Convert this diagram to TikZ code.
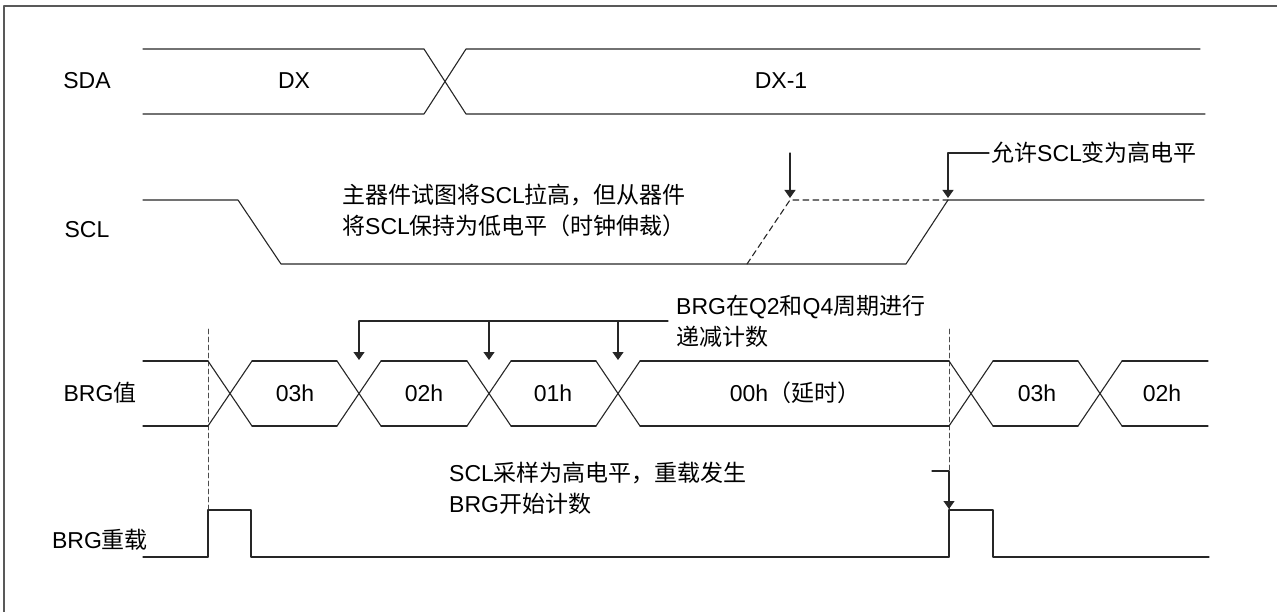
\documentclass[tikz,border=0pt]{standalone}
\usepackage{fontspec}
\setmainfont{Liberation Sans}
\newfontfamily\cjk{Noto Sans CJK SC}
\usetikzlibrary{arrows.meta}

\begin{document}
\begin{tikzpicture}[x=1pt, y=-1pt, line cap=round, line join=round,
    >={Triangle[width=11pt,length=8pt]},
    sig/.style={line width=1.1pt, black!85},
    guide/.style={line width=0.8pt, black!70, dash pattern=on 5pt off 3pt},
    every node/.style={font=\fontsize{23}{31}\selectfont, inner sep=0pt}]
    \useasboundingbox (0,0) rectangle (1277,612);

    % frame
    \draw[line width=1.2pt, black!65] (4,612) -- (4,6) -- (1277,6);

    % signal names
    \node (sda)    at (87,81)   {SDA};
    \node (scl)    at (87,230)  {SCL};
    \node (brg)    at (100,393) {BRG{\cjk 值}};
    \node (reload) at (100,540) {BRG{\cjk 重载}};

    % dashed guides at the reload instants
    \draw[guide] (208,329) -- (208,557);
    \draw[guide] (949,329) -- (949,557);

    % SDA bus
    \draw[sig] (143,49) -- (424,49) -- (466,114) -- (1205,114);
    \draw[sig] (143,114) -- (424,114) -- (466,49) -- (1200,49);
    \node (dx)    at (294,81) {DX};
    \node (dxone) at (781,81) {DX-1};

    % SCL, held low by the slave
    \draw[sig] (143,200) -- (238,200) -- (281,264) -- (906,264) -- (948,200) -- (1204,200);
    \draw[sig, dash pattern=on 6pt off 4pt] (747,264) -- (790,200) -- (948,200);
    \node[anchor=west, align=left] (stretch) at (342,210)
        {{\cjk 主器件试图将}SCL{\cjk 拉高，但从器件}\\{\cjk 将}SCL{\cjk 保持为低电平（时钟伸裁）}};
    \node[anchor=west, inner sep=2pt] (allow) at (989,153) {{\cjk 允许}SCL{\cjk 变为高电平}};
    \coordinate (try) at (790,153);
    \coordinate (tryend) at (790,198);
    \coordinate (release) at (948,198);
    \draw[sig, ->] (try) -- (tryend);
    \draw[sig, ->] (allow.west) -| (release);

    % BRG value bus: crossings, then the flat parts between them
    \foreach \c in {208,337,467,596,949,1078} {
        \draw[sig] (\c,361) -- +(44,65);
        \draw[sig] (\c,426) -- +(44,-65);
    }
    \foreach \a/\b in {143/208, 252/337, 381/467, 511/596, 640/949, 993/1078, 1122/1208} {
        \draw[sig] (\a,361) -- (\b,361);
        \draw[sig] (\a,426) -- (\b,426);
    }
    \node (v1) at (295,393)  {03h};
    \node (v2) at (424,393)  {02h};
    \node (v3) at (553,393)  {01h};
    \node (v4) at (795,393)  {00h{\cjk （延时）}};
    \node (v5) at (1037,393) {03h};
    \node (v6) at (1162,393) {02h};

    % decrement marks
    \node[anchor=west, align=left] (dec) at (676,321)
        {BRG{\cjk 在}Q2{\cjk 和}Q4{\cjk 周期进行}\\{\cjk 递减计数}};
    \coordinate (decL) at (359,321);
    \coordinate (decR) at (668,321);
    \draw[sig] (decR) -- (decL);
    \foreach \x in {359,489,618}
        \draw[sig, ->] (\x,321) -- (\x,360);

    % BRG reload pulses
    \draw[sig] (143,557) -- (208,557) -- (208,510) -- (251,510) -- (251,557)
        -- (949,557) -- (949,510) -- (993,510) -- (993,557) -- (1209,557);
    \node[anchor=west, align=left] (sample) at (449,488)
        {SCL{\cjk 采样为高电平，重载发生}\\BRG{\cjk 开始计数}};
    \coordinate (rl0) at (932,471);
    \coordinate (rl1) at (949,471);
    \coordinate (rl2) at (949,509);
    \draw[sig, ->] (rl0) -- (rl1) -- (rl2);
\end{tikzpicture}
\end{document}
